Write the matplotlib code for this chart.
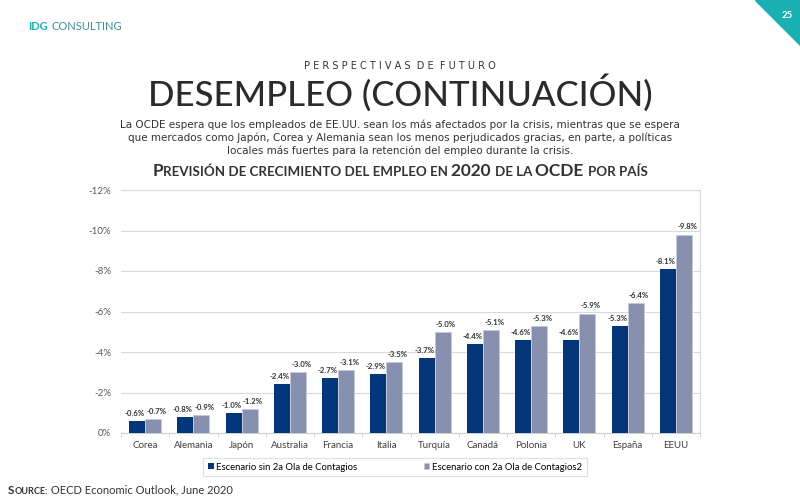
import numpy as np
import matplotlib
matplotlib.use('Agg')
import matplotlib.pyplot as plt
from matplotlib.offsetbox import TextArea, HPacker, AnnotationBbox
from matplotlib.patches import Polygon
from matplotlib.ticker import FixedLocator, FuncFormatter

plt.rcParams['font.family'] = ['Lato', 'DejaVu Sans']

# data
paises = ['Corea', 'Alemania', 'Japón', 'Australia', 'Francia', 'Italia',
          'Turquía', 'Canadá', 'Polonia', 'UK', 'España', 'EEUU']
sin_ola = [-0.6, -0.8, -1.0, -2.4, -2.7, -2.9, -3.7, -4.4, -4.6, -4.6, -5.3, -8.1]
con_ola = [-0.7, -0.9, -1.2, -3.0, -3.1, -3.5, -5.0, -5.1, -5.3, -5.9, -6.4, -9.8]
yticks = [0, -2, -4, -6, -8, -10, -12]
serie1 = 'Escenario sin 2a Ola de Contagios'
serie2 = 'Escenario con 2a Ola de Contagios2'

navy = '#03357A'
gris_azul = '#8890B0'
teal = '#1AAFB0'
texto = '#333333'

fig = plt.figure(figsize=(8, 5), dpi=100)

# header
fig.text(28/800, 1-27/500, 'IDG', color=teal, fontsize=8, fontweight='bold', va='center')
fig.text(52/800, 1-27/500, 'CONSULTING', color='#3f8f95', fontsize=8, va='center')
tri = Polygon([[755/800, 1], [1, 1], [1, 1-45/500]], closed=True,
              transform=fig.transFigure, color=teal)
fig.patches.append(tri)
fig.text(787/800, 1-15/500, '25', color='white', fontsize=7, fontweight='bold',
         ha='center', va='center')

fig.text(0.5, 1-66/500, '  '.join(' '.join(w) for w in 'PERSPECTIVAS DE FUTURO'.split()),
         ha='center', va='center', fontsize=7, color=texto, family='DejaVu Sans')
fig.text(0.5, 1-93/500, 'DESEMPLEO (CONTINUACIÓN)', ha='center', va='center',
         fontsize=25, color='#2b2b2b', fontweight=500)

parrafo = ['La OCDE espera que los empleados de EE.UU. sean los más afectados por la crisis, mientras que se espera',
           'que mercados como Japón, Corea y Alemania sean los menos perjudicados gracias, en parte, a políticas',
           'locales más fuertes para la retención del empleo durante la crisis.']
for i, linea in enumerate(parrafo):
    fig.text(0.5, 1-(125+13*i)/500, linea, ha='center', va='center', fontsize=7.5,
             color=texto, family='DejaVu Sans')


def small_caps(txt, big, small, weight='normal', color=texto):
    runs = []
    cur = ''
    cur_big = None
    for ch in txt:
        es_big = ch.isupper() or ch.isdigit()
        if ch == ' ':
            es_big = cur_big
        if cur_big is None or es_big == cur_big:
            cur += ch
        else:
            runs.append((cur, cur_big))
            cur = ch
        cur_big = es_big
    runs.append((cur, cur_big))
    areas = [TextArea(t.upper(), textprops=dict(fontsize=big if b else small,
                                                fontweight=weight, color=color))
             for t, b in runs]
    return HPacker(children=areas, pad=0, sep=0, align='baseline')


titulo = small_caps('Previsión de crecimiento del empleo en 2020 de la OCDE por país', 12.4, 9.6,
                    weight='bold')
ab = AnnotationBbox(titulo, (0.5, 1-171/500), xycoords='figure fraction',
                    frameon=False, box_alignment=(0.5, 0.5))
fig.add_artist(ab)

fuente = HPacker(children=[small_caps('Source:', 8.5, 6.6, weight='bold'),
                           TextArea(' OECD Economic Outlook, June 2020',
                                    textprops=dict(fontsize=8, color=texto))],
                 pad=0, sep=0, align='baseline')
ab2 = AnnotationBbox(fuente, (8/800, 1-490/500), xycoords='figure fraction',
                     frameon=False, box_alignment=(0, 0.5))
fig.add_artist(ab2)

# chart
ax = fig.add_axes([121/800, 67/500, 579/800, 243/500])
x = np.arange(len(paises))
w = 0.33
b1 = ax.bar(x - w/2, sin_ola, w, color=navy, label=serie1, zorder=3)
b2 = ax.bar(x + w/2, con_ola, w, color=gris_azul, label=serie2, zorder=3,
            edgecolor='#c5cadb', linewidth=0.5)
for barras, vals, dx in ((b1, sin_ola, -1.8), (b2, con_ola, 2.5)):
    for r, v in zip(barras, vals):
        ax.annotate('%.1f%%' % v, (r.get_x() + r.get_width()/2, v),
                    xytext=(dx, 3), textcoords='offset points', ha='center',
                    va='bottom', fontsize=5.6, color=texto, fontweight='bold')

ax.set_xlim(-0.5, len(paises) - 0.5)
ax.set_ylim(0, -12)
ax.yaxis.set_major_locator(FixedLocator(yticks))
ax.yaxis.set_major_formatter(FuncFormatter(lambda v, p: '%d%%' % v if v != 0 else '0%'))
ax.set_xticks(x)
ax.set_xticklabels(paises)
ax.set_xticks(np.arange(-0.5, len(paises)), minor=True)
ax.tick_params(axis='x', which='major', length=0, pad=6, labelsize=7, labelcolor='#404040')
ax.tick_params(axis='x', which='minor', length=3, color='#d0d0d0')
ax.tick_params(axis='y', length=0, pad=7, labelsize=7, labelcolor='#595959')
ax.grid(axis='y', color='#d9d9d9', linewidth=0.8, zorder=0)
for lado in ['top', 'right']:
    ax.spines[lado].set_color('#d9d9d9')
ax.spines['left'].set_visible(False)
ax.spines['bottom'].set_color('#d0d0d0')

leg = fig.legend(handles=[b1, b2], loc='center', bbox_to_anchor=(395/800, 1-467/500),
                 ncol=2, fontsize=6.8, frameon=True, fancybox=False, edgecolor='#d9d9d9',
                 handlelength=0.6, handleheight=0.6, handletextpad=0.3, columnspacing=7,
                 borderpad=0.5)
leg.get_frame().set_linewidth(0.8)

fig.savefig('out.png', dpi=100)
